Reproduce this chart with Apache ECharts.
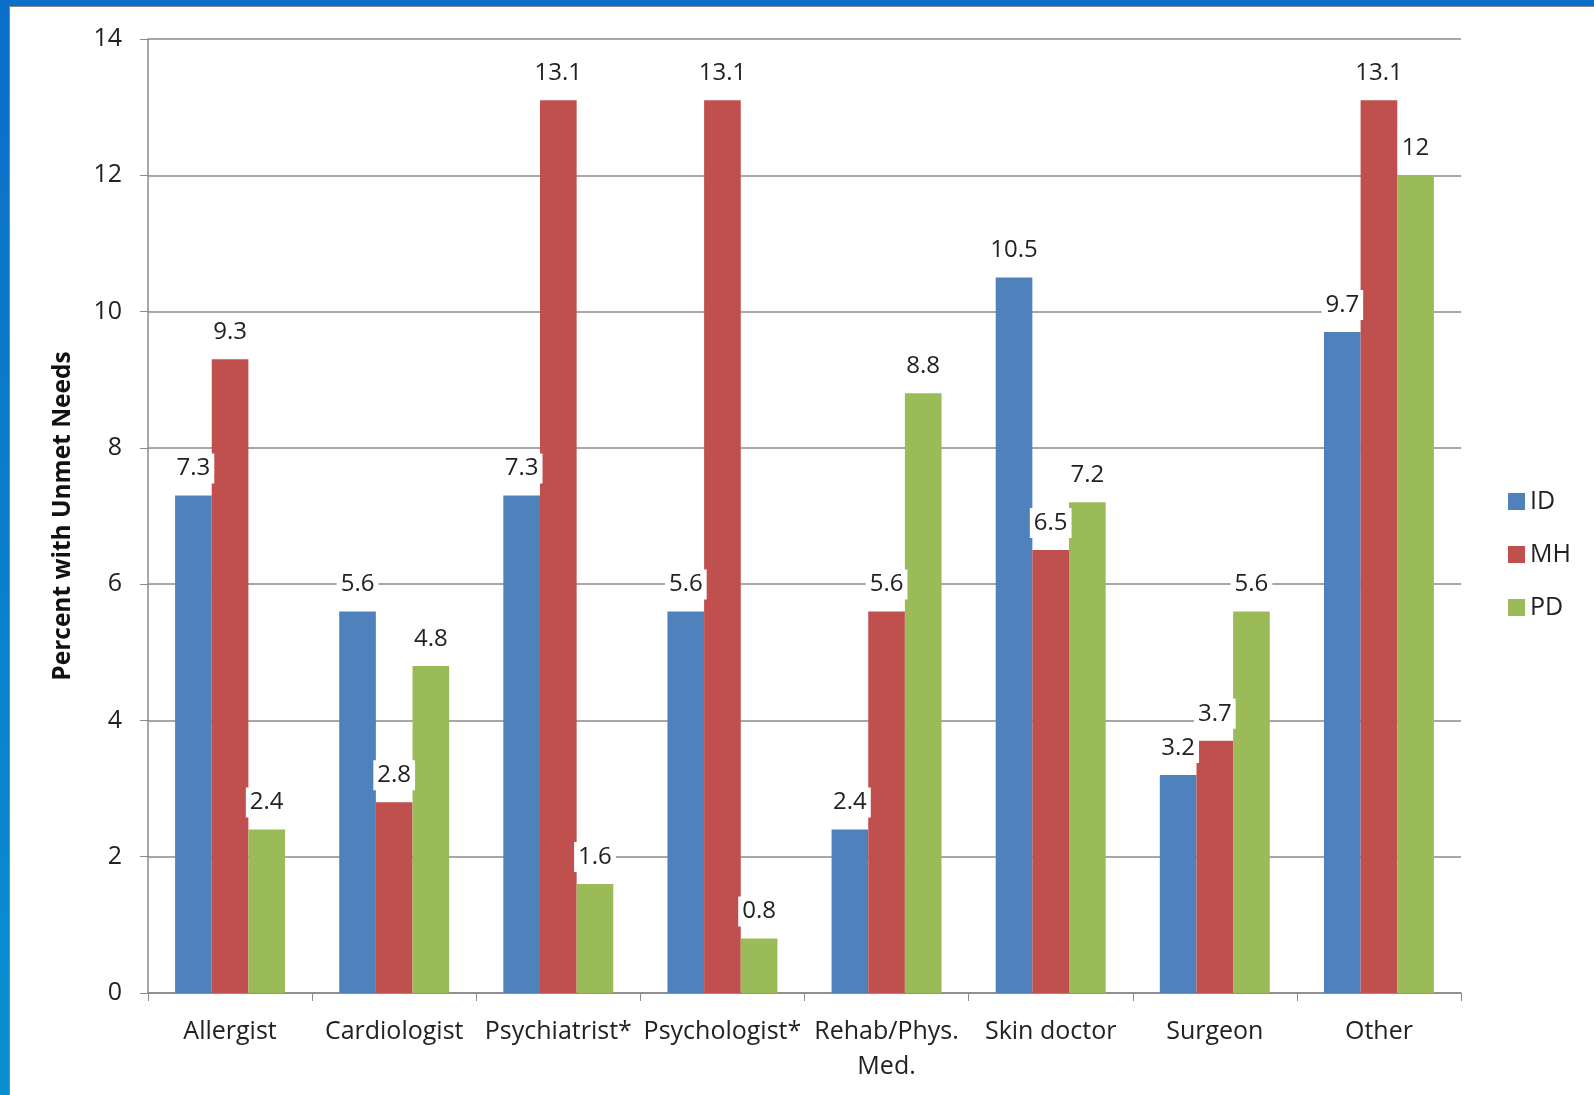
<!DOCTYPE html>
<html>
<head>
<meta charset="utf-8">
<script src="https://cdn.jsdelivr.net/npm/echarts@6/dist/echarts.min.js"></script>
<style>
  html, body { margin: 0; padding: 0; background: #fff; }
  #frame {
    position: absolute; left: 0; top: 0; width: 1594px; height: 1095px;
    background: linear-gradient(#0a6fc8, #0a8fd0);
  }
  #chart {
    position: absolute; left: 9px; top: 6px; width: 1585px; height: 1089px;
    background: #fff; border-left: 1px solid #888; border-top: 1px solid #888;
  }
</style>
</head>
<body>
<div id="frame"></div>
<div id="chart"></div>
<script>
// 类别与数据
const categories = ['Allergist', 'Cardiologist', 'Psychiatrist*', 'Psychologist*', 'Rehab/Phys.\nMed.', 'Skin doctor', 'Surgeon', 'Other']
const idData = [7.3, 5.6, 7.3, 5.6, 2.4, 10.5, 3.2, 9.7]
const mhData = [9.3, 2.8, 13.1, 13.1, 5.6, 6.5, 3.7, 13.1]
const pdData = [2.4, 4.8, 1.6, 0.8, 8.8, 7.2, 5.6, 12]

const font = '"Open Sans", sans-serif'
const gray = '#8a8a8a'

const label = {
    show: true,
    position: 'top',
    distance: 12,
    color: '#222',
    fontSize: 24,
    fontFamily: font,
    backgroundColor: '#fff',
    padding: [3, 4, 3, 4],
}

const makeSeries = (name, data, color) => ({
    type: 'bar',
    name: name,
    data: data,
    itemStyle: { color: color },
    barGap: '0%',
    barCategoryGap: '33%',
    label: label,
})

const myChart = echarts.init(document.getElementById('chart'))
myChart.setOption({
    animation: false,
    grid: { left: 138, right: 134, top: 32, bottom: 103 },
    legend: {
        orient: 'vertical',
        left: 1498,
        top: 482,
        padding: 0,
        itemWidth: 17,
        itemHeight: 17,
        itemGap: 28,
        itemSpacing: 6,
        icon: 'rect',
        textStyle: { fontSize: 25, fontFamily: font, color: '#222' },
        data: ['ID', 'MH', 'PD'],
    },
    xAxis: {
        type: 'category',
        data: categories,
        axisLine: { lineStyle: { color: gray, width: 1.5 } },
        axisTick: { show: true, length: 8, lineStyle: { color: gray } },
        axisLabel: { fontSize: 25, fontFamily: font, color: '#222', margin: 21, lineHeight: 35, interval: 0 },
    },
    yAxis: {
        type: 'value',
        min: 0,
        max: 14,
        interval: 2,
        name: 'Percent with Unmet Needs',
        nameLocation: 'middle',
        nameGap: 72,
        nameTextStyle: { fontSize: 24.5, fontWeight: 'bold', fontFamily: font, color: '#111' },
        axisLine: { show: true, lineStyle: { color: gray, width: 1.5 } },
        axisTick: { show: true, length: 8, lineStyle: { color: gray } },
        axisLabel: { fontSize: 25, fontFamily: font, color: '#222', margin: 26 },
        splitLine: { lineStyle: { color: gray, width: 1.5 } },
    },
    series: [
        makeSeries('ID', idData, '#4F81BD'),
        makeSeries('MH', mhData, '#C0504D'),
        makeSeries('PD', pdData, '#9BBB59'),
    ],
})
</script>
</body>
</html>
